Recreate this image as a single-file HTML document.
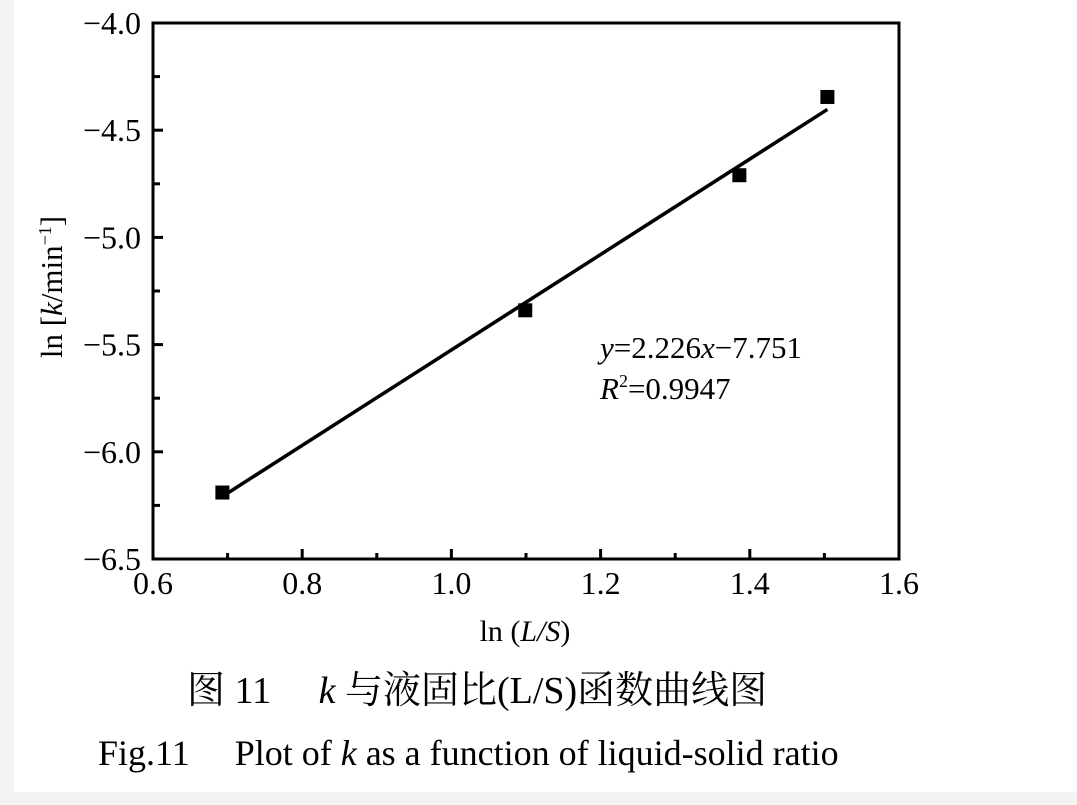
<!DOCTYPE html>
<html><head><meta charset="utf-8">
<style>
html,body{margin:0;padding:0;background:#f3f3f3;}
#wrap{position:relative;width:1077px;height:805px;overflow:hidden;}
svg{position:absolute;left:0;top:0;}
text{font-family:"Liberation Serif","Noto Serif CJK SC",serif;fill:#000;}
</style></head>
<body>
<div id="wrap">
<svg id="chart" width="1077" height="805">
<rect x="14" y="0" width="1063" height="792" fill="#fff"/>
</svg>
</div>
<script>
const xData=[0.693,1.099,1.386,1.504];
const yData=[-6.19,-5.34,-4.71,-4.345];
const fitSlope=2.226;
const fitIntercept=-7.751;
const xTicks=[0.6,0.8,1.0,1.2,1.4,1.6];
const xTickLabels=["0.6","0.8","1.0","1.2","1.4","1.6"];
const yTicks=[-4.0,-4.5,-5.0,-5.5,-6.0,-6.5];
const yTickLabels=["\u22124.0","\u22124.5","\u22125.0","\u22125.5","\u22126.0","\u22126.5"];

const L=153,R=899,T=23,B=559;
const xMin=0.6,xMax=1.6,yMin=-6.5,yMax=-4.0;
const sx=v=>L+(v-xMin)/(xMax-xMin)*(R-L);
const sy=v=>B-(v-yMin)/(yMax-yMin)*(B-T);
const svg=document.getElementById('chart');
const NS='http://www.w3.org/2000/svg';
function mk(tag,attrs){const e=document.createElementNS(NS,tag);for(const k in attrs)e.setAttribute(k,attrs[k]);svg.appendChild(e);return e;}

let frame=mk('rect',{x:L,y:T,width:R-L,height:B-T,fill:'none',stroke:'#000','stroke-width':3});



xTicks.forEach((v,i)=>{
  const x=sx(v);
  let t=mk('line',{x1:x,y1:B,x2:x,y2:B-10,stroke:'#000','stroke-width':3});
  
  
  if(i<xTicks.length-1){
    const xm=sx(v+0.1);
    let m=mk('line',{x1:xm,y1:B,x2:xm,y2:B-6,stroke:'#000','stroke-width':3});
    
    
  }
  let lb=mk('text',{x:x,y:B+35,'text-anchor':'middle','font-size':32});
  lb.textContent=xTickLabels[i];
  
  
});
yTicks.forEach((v,i)=>{
  const y=sy(v);
  let t=mk('line',{x1:L,y1:y,x2:L+10,y2:y,stroke:'#000','stroke-width':3});
  
  
  if(i<yTicks.length-1){
    const ym=sy(v-0.25);
    let m=mk('line',{x1:L,y1:ym,x2:L+7,y2:ym,stroke:'#000','stroke-width':3});
    
    
  }
  let lb=mk('text',{x:L-12,y:y+11,'text-anchor':'end','font-size':32});
  lb.textContent=yTickLabels[i];
  
  
});

const x0=Math.min(...xData),x1=Math.max(...xData);
let fit=mk('line',{x1:sx(x0),y1:sy(fitSlope*x0+fitIntercept),x2:sx(x1),y2:sy(fitSlope*x1+fitIntercept),stroke:'#000','stroke-width':3.5});



xData.forEach((v,i)=>{
  let p=mk('rect',{x:sx(v)-7,y:sy(yData[i])-7,width:14,height:14,fill:'#000'});
  
  
});

let eq=mk('text',{x:600,y:358,'font-size':31});
eq.innerHTML='<tspan font-style="italic">y</tspan>=2.226<tspan font-style="italic">x</tspan>\u22127.751';


let r2=mk('text',{x:600,y:399,'font-size':31});
r2.innerHTML='<tspan font-style="italic">R</tspan><tspan font-size="18" dy="-12">2</tspan><tspan dy="12">=0.9947</tspan>';



let xt=mk('text',{x:525,y:641,'text-anchor':'middle','font-size':30});
xt.innerHTML='ln (<tspan font-style="italic">L/S</tspan>)';



let yt=mk('text',{x:0,y:0,'text-anchor':'middle','font-size':31,transform:'translate(62,287) rotate(-90)'});
yt.innerHTML='ln [<tspan font-style="italic">k</tspan>/min<tspan font-size="18" dy="-11">\u22121</tspan><tspan dy="11">]</tspan>';



let c1=mk('text',{x:187,y:703,'font-size':38});
c1.innerHTML='图 11\u2003 <tspan font-style="italic">k</tspan> 与液固比(L/S)函数曲线图';


let c2=mk('text',{x:98,y:765,'font-size':36});
c2.innerHTML='Fig.11\u2003 Plot of <tspan font-style="italic">k</tspan> as a function of liquid-solid ratio';


</script>
</body></html>
